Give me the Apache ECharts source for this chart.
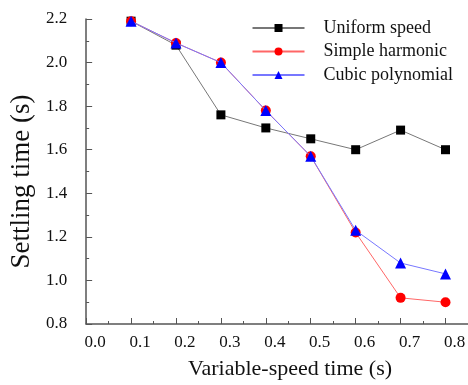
<!DOCTYPE html>
<html><head><meta charset="utf-8">
<script src="https://cdn.jsdelivr.net/npm/echarts@6/dist/echarts.min.js"></script>
<style>html,body{margin:0;padding:0;background:#fff}#c{width:468px;height:385px}</style>
</head><body><div id="c"></div>
<script>
const xValues = [0.1, 0.2, 0.3, 0.4, 0.5, 0.6, 0.7, 0.8];
const uniformSpeed = [2.19, 2.08, 1.76, 1.70, 1.65, 1.60, 1.69, 1.60];
const simpleHarmonic = [2.19, 2.09, 2.00, 1.78, 1.57, 1.22, 0.92, 0.90];
const cubicPolynomial = [2.19, 2.09, 2.00, 1.78, 1.57, 1.23, 1.08, 1.03];
const seriesNames = ['Uniform speed', 'Simple harmonic', 'Cubic polynomial'];

const font = 'Liberation Serif';
const axisColor = '#555';
const pair = arr => xValues.map((x, i) => [x, arr[i]]);

const chart = echarts.init(document.getElementById('c'));
chart.setOption({
  animation: false,
  textStyle: { fontFamily: font },
  grid: { left: 84, top: 19, right: 0, bottom: 59 },
  legend: {
    right: 10, top: 14, orient: 'vertical', itemGap: 5.5,
    itemWidth: 52, itemHeight: 10,
    textStyle: { fontFamily: font, fontSize: 18, color: '#111', padding: [0, 0, 0, 14] },
    data: seriesNames
  },
  xAxis: {
    type: 'value', min: 0, max: 0.85, interval: 0.1,
    name: 'Variable-speed time (s)', nameLocation: 'middle', nameGap: 34,
    nameTextStyle: { fontFamily: font, fontSize: 22, color: '#111', padding: [0, 0, 0, 26] },
    axisLine: { lineStyle: { color: axisColor, width: 1.5 } },
    axisTick: { inside: true, length: 6, lineStyle: { color: axisColor } },
    minorTick: { show: true, splitNumber: 2, length: 3, lineStyle: { color: axisColor } },
    splitLine: { show: false },
    axisLabel: { showMaxLabel: false, fontFamily: font, fontSize: 17, color: '#111', margin: 10,
      padding: [0, 0, 0, 18], formatter: v => v.toFixed(1) }
  },
  yAxis: {
    type: 'value', min: 0.8, max: 2.2, interval: 0.2,
    name: 'Settling time (s)', nameLocation: 'middle', nameGap: 50,
    nameTextStyle: { fontFamily: font, fontSize: 27, color: '#111', padding: [0, 20, 0, 0] },
    axisLine: { show: true, lineStyle: { color: axisColor, width: 1.5 } },
    axisTick: { show: true, inside: true, length: 6, lineStyle: { color: axisColor } },
    minorTick: { show: true, splitNumber: 2, length: 3, lineStyle: { color: axisColor } },
    splitLine: { show: false },
    axisLabel: { fontFamily: font, fontSize: 17, color: '#111', margin: 19, formatter: v => v.toFixed(1) }
  },
  series: [
    { name: seriesNames[0], type: 'line', data: pair(uniformSpeed), symbol: 'rect', symbolSize: 9,
      itemStyle: { color: '#000' }, lineStyle: { color: '#777', width: 1 }, z: 2 },
    { name: seriesNames[1], type: 'line', data: pair(simpleHarmonic), symbol: 'circle', symbolSize: 10,
      itemStyle: { color: '#ff0000' }, lineStyle: { color: '#ff6666', width: 1 }, z: 3 },
    { name: seriesNames[2], type: 'line', data: pair(cubicPolynomial), symbol: 'triangle', symbolSize: 11,
      itemStyle: { color: '#0000ff' }, lineStyle: { color: '#7777ff', width: 1 }, z: 4 }
  ]
});
</script></body></html>
